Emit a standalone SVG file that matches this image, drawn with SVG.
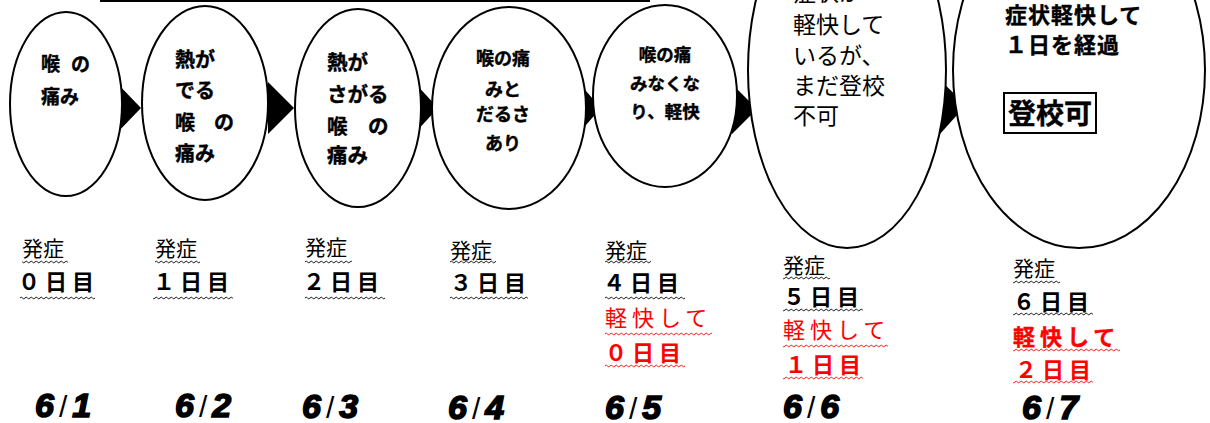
<svg xmlns="http://www.w3.org/2000/svg" width="1210" height="423" viewBox="0 0 1210 423">
<style>
.jp{font-family:"Noto Sans CJK JP","Noto Sans CJK SC",sans-serif;fill:#000}
.b{font-weight:bold;stroke:#000;stroke-width:0.4}
.red{fill:#ff0000}
.red.b{stroke:#ff0000}
.ell{fill:#fff;stroke:#000;stroke-width:2}
.arrow{fill:#000}
.date{font-family:"Liberation Sans",sans-serif;font-style:italic;font-weight:bold;font-size:34px;fill:#000;stroke:#000;stroke-width:1.6}
.sl{font-weight:normal;font-style:normal;stroke-width:0;font-size:30px}
.lab{font-size:21px}
.day{font-size:22px;font-weight:bold;letter-spacing:5px}
.rk{font-size:22px;letter-spacing:5px}
</style>
<defs>
<pattern id="waveK" width="5" height="4" patternUnits="userSpaceOnUse"><path d="M0,2 Q1.25,0.3 2.5,2 T5,2" fill="none" stroke="#000" stroke-width="0.9"/></pattern>
<pattern id="waveR" width="5" height="4" patternUnits="userSpaceOnUse"><path d="M0,2 Q1.25,0.3 2.5,2 T5,2" fill="none" stroke="#ff0000" stroke-width="0.9"/></pattern>
</defs>
<rect width="1210" height="423" fill="#fff"/>
<rect x="100" y="-1" width="550" height="3" fill="#000"/>
<g id="connectors">
<polygon class="arrow" points="114,80 141,108 114,136"/>
<polygon class="arrow" points="268,82 294,108 268,134"/>
<polygon class="arrow" points="414,82 438,108 414,134"/>
<polygon class="arrow" points="578,82 601,108 578,134"/>
<polygon class="arrow" points="732,84 757,109 732,134"/>
<polygon class="arrow" points="940,80 966,105 940,134"/>
</g>
<g id="node1">
<ellipse class="ell" cx="66" cy="104" rx="56" ry="92"/>
<text class="jp b" font-size="19"><tspan x="41" y="71">喉</tspan><tspan x="71" y="71">の</tspan><tspan x="41" y="104">痛み</tspan></text>
</g>
<g id="node2">
<ellipse class="ell" cx="205" cy="103" rx="63" ry="97"/>
<text class="jp b" font-size="20"><tspan x="175" y="67">熱が</tspan><tspan x="175" y="98">でる</tspan><tspan x="175" y="130">喉</tspan><tspan x="214" y="130">の</tspan><tspan x="175" y="161">痛み</tspan></text>
</g>
<g id="node3">
<ellipse class="ell" cx="358" cy="108" rx="63" ry="99"/>
<text class="jp b" font-size="20.5"><tspan x="327" y="70">熱が</tspan><tspan x="327" y="102">さがる</tspan><tspan x="327" y="134">喉</tspan><tspan x="368" y="134">の</tspan><tspan x="327" y="163">痛み</tspan></text>
</g>
<g id="node4">
<ellipse class="ell" cx="509" cy="108" rx="77" ry="101"/>
<text class="jp b" font-size="18" text-anchor="middle"><tspan x="503" y="65">喉の痛</tspan><tspan x="503" y="96">みと</tspan><tspan x="503" y="121">だるさ</tspan><tspan x="503" y="150">あり</tspan></text>
</g>
<g id="node5">
<ellipse class="ell" cx="665" cy="96" rx="72" ry="91"/>
<text class="jp b" font-size="17.5" text-anchor="middle"><tspan x="665" y="61">喉の痛</tspan><tspan x="665" y="90">みなくな</tspan><tspan x="665" y="118">り、軽快</tspan></text>
</g>
<g id="node6">
<ellipse class="ell" cx="847" cy="70" rx="99" ry="178"/>
<text class="jp" font-size="23"><tspan x="793" y="1">症状が</tspan><tspan x="793" y="33">軽快して</tspan><tspan x="793" y="64">いるが、</tspan><tspan x="793" y="94">まだ登校</tspan><tspan x="793" y="124">不可</tspan></text>
</g>
<g id="node7">
<ellipse class="ell" cx="1079" cy="70" rx="126" ry="178"/>
<text class="jp b" font-size="22" letter-spacing="1"><tspan x="1005" y="23">症状軽快して</tspan><tspan x="1005" y="53">１日を経過</tspan></text>
<rect x="1004" y="93" width="92" height="40" fill="none" stroke="#000" stroke-width="2"/>
<text class="jp b" font-size="28" x="1008" y="124">登校可</text>
</g>
<g id="day0">
<text class="jp lab" x="22" y="256">発症</text><rect x="22" y="260" width="46" height="4" fill="url(#waveK)"/>
<text class="jp day" x="18" y="290">０日目</text><rect x="20" y="296" width="75" height="4" fill="url(#waveK)"/>
<text class="date" x="35" y="417">6<tspan class="sl" dx="5">/</tspan><tspan dx="5">1</tspan></text>
</g>
<g id="day1">
<text class="jp lab" x="155" y="256">発症</text><rect x="155" y="260" width="45" height="4" fill="url(#waveK)"/>
<text class="jp day" x="153" y="290">１日目</text><rect x="153" y="296" width="80" height="4" fill="url(#waveK)"/>
<text class="date" x="175" y="417">6<tspan class="sl" dx="5">/</tspan><tspan dx="5">2</tspan></text>
</g>
<g id="day2">
<text class="jp lab" x="305" y="255">発症</text><rect x="305" y="260" width="47" height="4" fill="url(#waveK)"/>
<text class="jp day" x="303" y="290">２日目</text><rect x="305" y="296" width="80" height="4" fill="url(#waveK)"/>
<text class="date" x="302" y="418">6<tspan class="sl" dx="5">/</tspan><tspan dx="5">3</tspan></text>
</g>
<g id="day3">
<text class="jp lab" x="450" y="258">発症</text><rect x="450" y="260" width="46" height="4" fill="url(#waveK)"/>
<text class="jp day" x="450" y="291">３日目</text><rect x="450" y="296" width="78" height="4" fill="url(#waveK)"/>
<text class="date" x="448" y="419">6<tspan class="sl" dx="5">/</tspan><tspan dx="5">4</tspan></text>
</g>
<g id="day4">
<text class="jp lab" x="605" y="258">発症</text><rect x="605" y="260" width="46" height="4" fill="url(#waveK)"/>
<text class="jp day" x="603" y="291">４日目</text><rect x="605" y="296" width="80" height="4" fill="url(#waveK)"/>
<text class="jp rk red" x="605" y="326">軽快して</text><rect x="605" y="332" width="107" height="4" fill="url(#waveR)"/>
<text class="jp day red" x="605" y="361">０日目</text><rect x="605" y="364" width="80" height="4" fill="url(#waveR)"/>
<text class="date" x="605" y="419">6<tspan class="sl" dx="5">/</tspan><tspan dx="5">5</tspan></text>
</g>
<g id="day5">
<text class="jp lab" x="783" y="273">発症</text><rect x="783" y="276" width="47" height="4" fill="url(#waveK)"/>
<text class="jp day" x="783" y="305">５日目</text><rect x="783" y="308" width="80" height="4" fill="url(#waveK)"/>
<text class="jp rk red" x="783" y="338">軽快して</text><rect x="783" y="344" width="105" height="4" fill="url(#waveR)"/>
<text class="jp day red" x="785" y="373">１日目</text><rect x="783" y="376" width="80" height="4" fill="url(#waveR)"/>
<text class="date" x="783" y="418">6<tspan class="sl" dx="5">/</tspan><tspan dx="5">6</tspan></text>
</g>
<g id="day6">
<text class="jp lab" x="1013" y="276">発症</text><rect x="1013" y="280" width="47" height="4" fill="url(#waveK)"/>
<text class="jp day" x="1013" y="310">６日目</text><rect x="1013" y="312" width="80" height="4" fill="url(#waveK)"/>
<text class="jp rk red b" x="1013" y="345">軽快して</text><rect x="1013" y="348" width="107" height="4" fill="url(#waveR)"/>
<text class="jp day red" x="1015" y="378">２日目</text><rect x="1013" y="380" width="80" height="4" fill="url(#waveR)"/>
<text class="date" x="1022" y="419">6<tspan class="sl" dx="5">/</tspan><tspan dx="5">7</tspan></text>
</g>
</svg>
